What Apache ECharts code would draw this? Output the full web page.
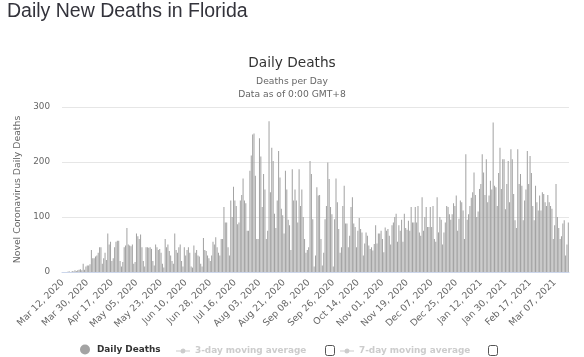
<!DOCTYPE html>
<html>
<head>
<meta charset="utf-8">
<script src="https://cdn.jsdelivr.net/npm/echarts@6/dist/echarts.min.js"></script>
<style>
  html, body { margin: 0; padding: 0; background: #fff; }
  #chart { width: 584px; height: 357px; }
</style>
</head>
<body>
<div id="chart"></div>
<script>
// ---- Data (daily new deaths, Florida) ----
const startDate = [2020, 2, 12]; // Mar 12, 2020
const mar2020 = [0,0,0,0,1,1,0,2,1,3,2,3,4,5,3,15,4,10,12,12];
const apr2020 = [14,40,25,25,28,30,35,45,45,15,25,35,22,70,50,55,20,25,45,55,57,57,20,10,18,45,48,80,50,48];
const may2020 = [47,50,15,18,70,65,60,68,45,20,10,45,45,44,45,42,20,12,50,45,40,42,35,15,8,60,45,50,38,30,20];
const jun2020 = [15,70,40,35,45,50,20,10,45,30,40,45,35,10,8,48,35,40,30,28,15,10,62,40,38,30,25,20,30,55];
const jul2020 = [50,63,45,35,30,60,60,118,90,90,45,30,130,100,155,130,120,87,90,130,140,170,130,125,75,75,184,212,250,252,175];
const aug2020 = [60,60,243,210,118,178,150,60,75,274,145,226,202,106,80,130,220,172,115,103,70,184,150,95,85,40,187,130,150,130,90];
const sep2020 = [187,120,150,100,60,35,40,45,202,178,96,10,30,154,139,140,60,12,35,96,120,199,169,118,105,10,96,170,127,78];
const oct2020 = [35,45,120,157,88,88,45,66,118,136,88,82,45,75,98,78,72,30,52,72,66,48,42,45,39,51,85,52,70,70,75];
const nov2020 = [60,36,81,75,78,66,50,85,90,100,106,55,85,75,95,55,106,80,77,93,75,118,90,90,118,90,120,72,66,136];
const dec2020 = [75,100,118,82,82,118,82,120,60,55,136,72,100,95,50,72,90,120,118,105,95,105,125,120,139,75,97,130,127,112,60];
const jan2021 = [214,95,105,120,135,145,181,140,100,110,151,160,214,181,140,205,127,139,166,150,272,157,154,120,180,226,151,205,205,114,160];
const feb2021 = [202,127,223,205,142,94,80,223,160,178,157,94,130,150,220,160,211,180,120,94,157,127,112,139,112,145,142,127];
const mar2021 = [120,140,127,120,115,60,85,160,100,80,60,65,88,94,30,50,90];

const dailyDeaths = [].concat(mar2020, apr2020, may2020, jun2020, jul2020, aug2020,
  sep2020, oct2020, nov2020, dec2020, jan2021, feb2021, mar2021);
const yTicks = [0, 100, 200, 300];
const seriesNames = ['Daily Deaths', '3-day moving average', '7-day moving average'];
const monthNames = ['Jan','Feb','Mar','Apr','May','Jun','Jul','Aug','Sep','Oct','Nov','Dec'];

// category labels: consecutive days from the start date
const categories = [];
for (let i = 0; i < dailyDeaths.length; i++) {
  const d = new Date(Date.UTC(startDate[0], startDate[1], startDate[2] + i));
  const dd = String(d.getUTCDate()).padStart(2, '0');
  categories.push(monthNames[d.getUTCMonth()] + ' ' + dd + ', ' + d.getUTCFullYear());
}

const FONT = '"DejaVu Sans", sans-serif';
const chart = echarts.init(document.getElementById('chart'), null, { renderer: 'canvas' });

// legend icon for the (hidden) moving-average series: short line with a dot
const lineDotIcon = 'path://M0,2 L14,2 L14,3 L0,3 Z M7,0 A2.5,2.5 0 1 1 6.99,0 Z';

const legendBase = {
  orient: 'horizontal',
  top: 344.5,
  padding: 0,
  itemWidth: 14,
  itemHeight: 10,
  itemGap: 5,
  inactiveColor: '#cccccc',
  textStyle: { fontFamily: FONT, fontSize: 8.9, fontWeight: 'bold', color: '#333333' }
};

chart.setOption({
  animation: false,
  backgroundColor: '#ffffff',
  title: {
    text: 'Daily Deaths',
    subtext: 'Deaths per Day\nData as of 0:00 GMT+8',
    left: 'center',
    top: 51,
    itemGap: 5,
    textStyle: { fontFamily: FONT, fontSize: 13.7, fontWeight: 'normal', color: '#333333' },
    subtextStyle: { fontFamily: FONT, fontSize: 9.2, color: '#666666', lineHeight: 13 }
  },
  legend: [
    Object.assign({}, legendBase, { left: 80, data: [{ name: seriesNames[0], icon: 'circle' }] }),
    Object.assign({}, legendBase, { left: 176, top: 346.5, itemHeight: 5,
      data: [{ name: seriesNames[1], icon: lineDotIcon }],
      selected: { [seriesNames[1]]: false } }),
    Object.assign({}, legendBase, { left: 340, top: 346.5, itemHeight: 5,
      data: [{ name: seriesNames[2], icon: lineDotIcon }],
      selected: { [seriesNames[2]]: false } })
  ],
  grid: { left: 62, right: 15, top: 107, bottom: 85, containLabel: false },
  xAxis: {
    type: 'category',
    data: categories,
    boundaryGap: true,
    axisLine: { show: true, lineStyle: { color: '#ccd6eb', width: 1 } },
    axisTick: { show: false },
    axisLabel: {
      interval: 17,
      rotate: 45,
      margin: 9,
      fontFamily: FONT,
      fontSize: 9.3,
      color: '#666666'
    },
    splitLine: { show: false }
  },
  yAxis: {
    type: 'value',
    min: yTicks[0],
    max: yTicks[yTicks.length - 1],
    interval: 100,
    name: 'Novel Coronavirus Daily Deaths',
    nameLocation: 'middle',
    nameGap: 40,
    nameTextStyle: { fontFamily: FONT, fontSize: 9.3, color: '#666666' },
    axisLine: { show: false },
    axisTick: { show: false },
    axisLabel: { fontFamily: FONT, fontSize: 8.8, color: '#666666', margin: 12 },
    splitLine: { lineStyle: { color: '#e6e6e6', width: 1 } }
  },
  series: [
    {
      name: seriesNames[0],
      type: 'bar',
      data: dailyDeaths,
      barCategoryGap: '25%',
      itemStyle: { color: '#a3a3a3' },
      emphasis: { disabled: true }
    },
    {
      name: seriesNames[1],
      type: 'line',
      data: [],
      symbol: 'circle',
      itemStyle: { color: '#7cb5ec' }
    },
    {
      name: seriesNames[2],
      type: 'line',
      data: [],
      symbol: 'circle',
      itemStyle: { color: '#434348' }
    }
  ],
  graphic: [
    {
      type: 'text',
      left: 7,
      top: 2,
      style: {
        text: 'Daily New Deaths in Florida',
        fontFamily: '"Liberation Sans", Arial, sans-serif',
        fontSize: 19.5,
        fill: '#33333b'
      }
    },
    {
      type: 'rect',
      shape: { x: 325.5, y: 345.5, width: 9, height: 10, r: 2 },
      style: { fill: '#ffffff', stroke: '#555555', lineWidth: 1 }
    },
    {
      type: 'rect',
      shape: { x: 488.5, y: 345.5, width: 9, height: 10, r: 2 },
      style: { fill: '#ffffff', stroke: '#555555', lineWidth: 1 }
    }
  ]
});
</script>
</body>
</html>
